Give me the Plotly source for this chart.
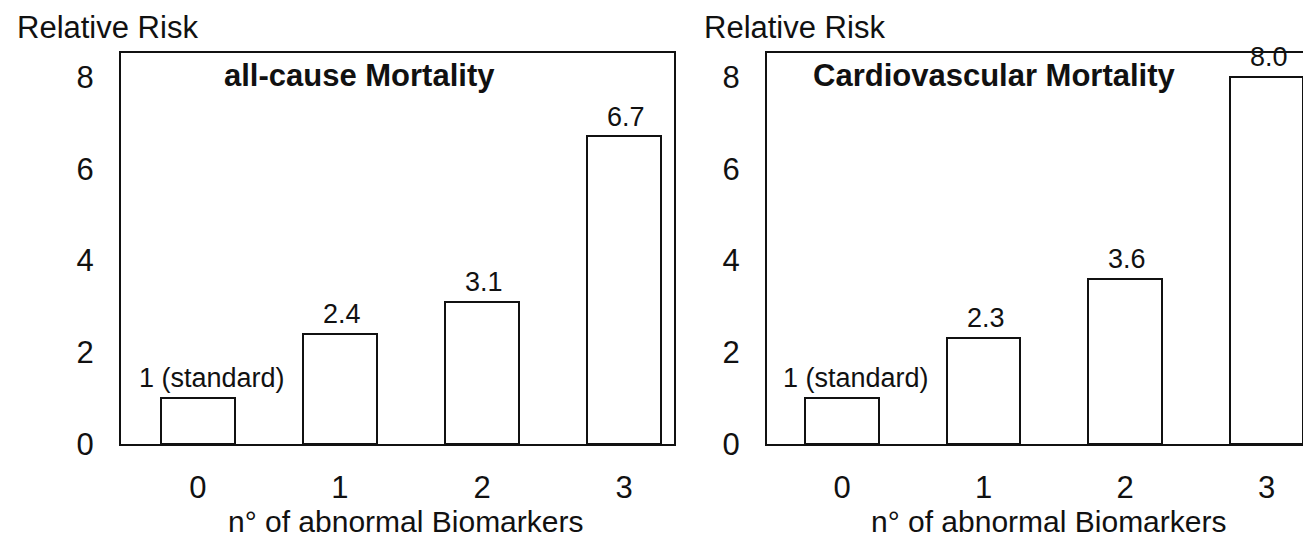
import plotly.graph_objects as go

# ---- data ----
categories = ["0", "1", "2", "3"]
all_cause_rr = [1.0, 2.4, 3.1, 6.7]
cardio_rr = [1.0, 2.3, 3.6, 8.0]
all_cause_labels = ["1 (standard)", "2.4", "3.1", "6.7"]
cardio_labels = ["1 (standard)", "2.3", "3.6", "8.0"]
y_tick_vals = [0, 2, 4, 6, 8]
panel_titles = ["all-cause Mortality", "Cardiovascular Mortality"]
y_title = "Relative Risk"
x_title = "n° of abnormal Biomarkers"

OFF = 8       # page body margin
KY = 0.97     # vertical scale observed between page and picture
W, H = 1311 - OFF, 545
FONT = "Liberation Sans, Arial, Helvetica, sans-serif"
INK = "#111111"

def px_x(p):
    return (p - OFF) / W

def px_y(p):
    return 1 - (p / KY - OFF) / H

fig = go.Figure()

bar_style = dict(marker=dict(color="white", line=dict(color=INK, width=2)),
                 width=0.521, showlegend=False, hoverinfo="x+y")

fig.add_trace(go.Bar(x=categories, y=all_cause_rr, xaxis="x", yaxis="y", **bar_style))
fig.add_trace(go.Bar(x=categories, y=cardio_rr, xaxis="x2", yaxis="y2", **bar_style))

axis_common = dict(showline=True, linecolor=INK, linewidth=2, showgrid=False,
                   zeroline=False, ticks="", color=INK)

ydom = [px_y(445), px_y(53)]

fig.update_layout(
    width=W, height=H, autosize=False,
    margin=dict(l=0, r=0, t=0, b=0, pad=0),
    paper_bgcolor="white", plot_bgcolor="white",
    font=dict(family=FONT, color=INK),
    bargap=0,
    xaxis=dict(domain=[px_x(121), px_x(674)], range=[-0.542, 3.352], type="category",
               mirror=True, tickfont=dict(size=31), ticklabelstandoff=15,
               anchor="y", **axis_common),
    yaxis=dict(domain=ydom, range=[0, 8.52], tickvals=y_tick_vals,
               mirror=True, tickfont=dict(size=31), ticklabelstandoff=19,
               anchor="x", **axis_common),
    xaxis2=dict(domain=[px_x(767), 1.0], range=[-0.530, 3.314], type="category",
                mirror=True, tickfont=dict(size=31), ticklabelstandoff=15,
                anchor="y2", **axis_common),
    yaxis2=dict(domain=ydom, range=[0, 8.52], tickvals=y_tick_vals,
                mirror=False, tickfont=dict(size=31), ticklabelstandoff=19,
                anchor="x2", **axis_common),
)

annotations = []
# bar value labels
for xr, yr, vals, labels in [("x", "y", all_cause_rr, all_cause_labels),
                             ("x2", "y2", cardio_rr, cardio_labels)]:
    for i, (c, v, t) in enumerate(zip(categories, vals, labels)):
        annotations.append(dict(x=c, y=v, xref=xr, yref=yr, text=t, showarrow=False,
                                yanchor="bottom", xanchor="center", yshift=3,
                                xshift=14 if i == 0 else 2,
                                font=dict(size=27, color=INK)))

# panel titles
for cx, t in [(359, panel_titles[0]), (994, panel_titles[1])]:
    annotations.append(dict(x=px_x(cx), y=px_y(75), xref="paper", yref="paper", text="<b>%s</b>" % t,
                            showarrow=False, xanchor="center", yanchor="middle",
                            font=dict(size=31, color=INK)))

# y titles ("Relative Risk")
for cx in [107, 794]:
    annotations.append(dict(x=px_x(cx), y=px_y(27), xref="paper", yref="paper", text=y_title,
                            showarrow=False, xanchor="center", yanchor="middle",
                            font=dict(size=31, color=INK)))

# x titles
for cx in [405, 1048]:
    annotations.append(dict(x=px_x(cx), y=px_y(523), xref="paper", yref="paper", text=x_title,
                            showarrow=False, xanchor="center", yanchor="middle",
                            font=dict(size=30, color=INK)))

fig.update_layout(annotations=annotations)

fig.write_html("out.html")
